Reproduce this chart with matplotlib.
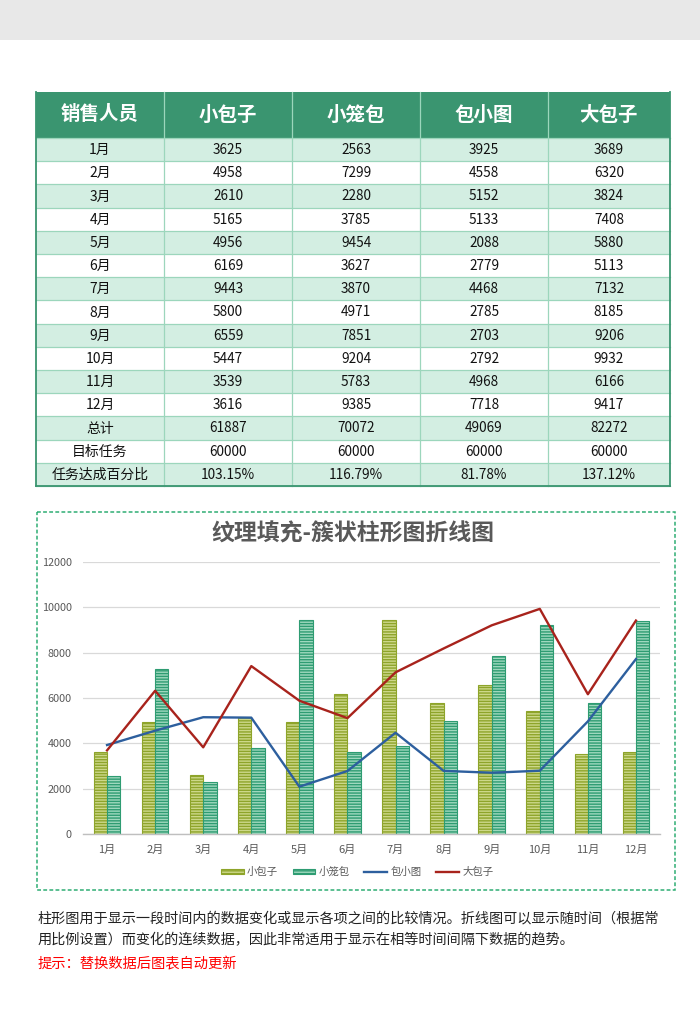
import matplotlib
matplotlib.use("Agg")
import matplotlib.pyplot as plt
from matplotlib.patches import Rectangle, Patch
from matplotlib.lines import Line2D
import numpy as np

plt.rcParams['font.family'] = ['Noto Sans CJK SC', 'DejaVu Sans']
plt.rcParams['hatch.linewidth'] = 1.0

# ---------------- data ----------------
header = ["销售人员", "小包子", "小笼包", "包小图", "大包子"]
months = ["1月", "2月", "3月", "4月", "5月", "6月", "7月", "8月", "9月", "10月", "11月", "12月"]
xiaobaozi = [3625, 4958, 2610, 5165, 4956, 6169, 9443, 5800, 6559, 5447, 3539, 3616]
xiaolongbao = [2563, 7299, 2280, 3785, 9454, 3627, 3870, 4971, 7851, 9204, 5783, 9385]
baoxiaotu = [3925, 4558, 5152, 5133, 2088, 2779, 4468, 2785, 2703, 2792, 4968, 7718]
dabaozi = [3689, 6320, 3824, 7408, 5880, 5113, 7132, 8185, 9206, 9932, 6166, 9417]
totals = ["61887", "70072", "49069", "82272"]
targets = ["60000", "60000", "60000", "60000"]
ratios = ["103.15%", "116.79%", "81.78%", "137.12%"]
extra_labels = ["总计", "目标任务", "任务达成百分比"]
yticks = [0, 2000, 4000, 6000, 8000, 10000, 12000]
chart_title = "纹理填充-簇状柱形图折线图"
desc_lines = ["柱形图用于显示一段时间内的数据变化或显示各项之间的比较情况。折线图可以显示随时间（根据常",
              "用比例设置）而变化的连续数据，因此非常适用于显示在相等时间间隔下数据的趋势。"]
hint = "提示：替换数据后图表自动更新"

W, H = 700, 1030
fig = plt.figure(figsize=(W / 100, H / 100), dpi=100)
fig.patch.set_facecolor("white")

bg = fig.add_axes([0, 0, 1, 1])
bg.set_xlim(0, W)
bg.set_ylim(H, 0)
bg.axis("off")

bg.add_patch(Rectangle((0, 0), W, 40, facecolor="#e8e8e8", edgecolor="none"))

# ---------------- table ----------------
col_x = [36, 164, 292, 420, 548, 670]
top = 92
head_h = 46
row_h = 23.2
header_color = "#3a9570"
light = "#d3eee2"
grid_c = "#9cd6bc"

rows = []
for i, m in enumerate(months):
    rows.append([m, str(xiaobaozi[i]), str(xiaolongbao[i]), str(baoxiaotu[i]), str(dabaozi[i])])
rows.append([extra_labels[0]] + totals)
rows.append([extra_labels[1]] + targets)
rows.append([extra_labels[2]] + ratios)

bg.add_patch(Rectangle((col_x[0], top), col_x[-1] - col_x[0], head_h,
                       facecolor=header_color, edgecolor="none"))
for j, h in enumerate(header):
    cx = (col_x[j] + col_x[j + 1]) / 2
    bg.text(cx, top + head_h / 2, h, color="white", fontsize=14, fontweight="bold",
            ha="center", va="center")

for i, r in enumerate(rows):
    y0 = top + head_h + i * row_h
    fc = light if i % 2 == 0 else "white"
    bg.add_patch(Rectangle((col_x[0], y0), col_x[-1] - col_x[0], row_h,
                           facecolor=fc, edgecolor="none"))
    for j, v in enumerate(r):
        cx = (col_x[j] + col_x[j + 1]) / 2
        bg.text(cx, y0 + row_h / 2 + 0.5, v, color="#111111", fontsize=10 if j == 0 else 9.8,
                ha="center", va="center", fontweight="medium")

table_bottom = top + head_h + len(rows) * row_h
for i in range(len(rows) + 1):
    y = top + head_h + i * row_h
    bg.plot([col_x[0], col_x[-1]], [y, y], color=grid_c, lw=0.9)
for j, x in enumerate(col_x):
    inner = 0 < j < len(col_x) - 1
    bg.plot([x, x], [top, table_bottom], color=grid_c if inner else header_color,
            lw=0.9 if inner else 1.3)
bg.plot([col_x[0], col_x[-1]], [table_bottom, table_bottom], color=header_color, lw=1.3)

# ---------------- chart box ----------------
bg.add_patch(Rectangle((37, 512), 638, 378, facecolor="none", edgecolor="#2fae74",
                       lw=1.1, linestyle=(0, (2.5, 1.5))))
bg.text(353, 534, chart_title, color="#595959", fontsize=16.5, fontweight="bold",
        ha="center", va="center")

# ---------------- chart axes ----------------
ax_l, ax_r, ax_t, ax_b = 83, 660, 562, 834
ax = fig.add_axes([ax_l / W, 1 - ax_b / H, (ax_r - ax_l) / W, (ax_b - ax_t) / H])
ax.set_facecolor("none")
x = np.arange(len(months))
bw = 0.277
c1_face, c1_edge = "#cdd88a", "#8ea42a"
c2_face, c2_edge = "#9fd8be", "#2e9c72"
ax.bar(x - bw / 2, xiaobaozi, width=bw, facecolor=c1_face, edgecolor=c1_edge,
       hatch="------", linewidth=0.8, zorder=2)
ax.bar(x + bw / 2, xiaolongbao, width=bw, facecolor=c2_face, edgecolor=c2_edge,
       hatch="------", linewidth=0.8, zorder=2)
ax.plot(x, baoxiaotu, color="#2d5f9e", lw=1.7, zorder=3)
ax.plot(x, dabaozi, color="#a8231c", lw=1.7, zorder=3)

ax.set_xlim(-0.5, len(months) - 0.5)
ax.set_ylim(0, 12000)
ax.set_yticks(yticks)
ax.set_yticklabels([str(t) for t in yticks])
ax.set_xticks(x)
ax.set_xticklabels(months)
ax.yaxis.grid(True, color="#d9d9d9", lw=0.9, zorder=0)
ax.set_axisbelow(True)
for s in ["top", "right", "left"]:
    ax.spines[s].set_visible(False)
ax.spines["bottom"].set_color("#bfbfbf")
ax.spines["bottom"].set_linewidth(1.0)
ax.tick_params(axis="both", length=0, colors="#595959")
ax.tick_params(axis="y", labelsize=7.8, pad=8)
ax.tick_params(axis="x", labelsize=8, pad=8)

handles = [
    Patch(facecolor=c1_face, edgecolor=c1_edge, hatch="------", lw=0.8),
    Patch(facecolor=c2_face, edgecolor=c2_edge, hatch="------", lw=0.8),
    Line2D([], [], color="#2d5f9e", lw=1.7),
    Line2D([], [], color="#a8231c", lw=1.7),
]
fig.legend(handles, header[1:], loc="center", bbox_to_anchor=(357 / W, 1 - 872 / H),
           ncol=4, frameon=False, fontsize=7.5, handlelength=2.2, handleheight=0.45,
           handletextpad=0.3, columnspacing=1.4, labelcolor="#595959")

# ---------------- description ----------------
bg.text(38, 918, desc_lines[0], color="#222222", fontsize=10.2, ha="left", va="center")
bg.text(38, 940, desc_lines[1], color="#222222", fontsize=10.2, ha="left", va="center")
bg.text(38, 964, hint, color="#ff0000", fontsize=10.3, ha="left", va="center")

fig.savefig("out.png", dpi=100)
